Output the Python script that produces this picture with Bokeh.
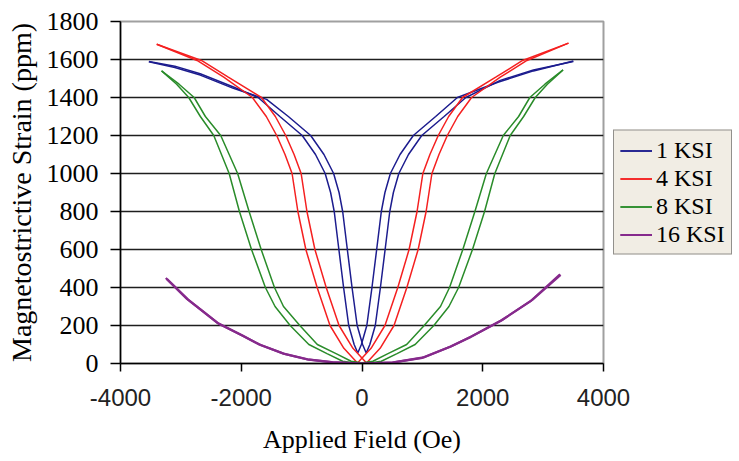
from bokeh.plotting import figure
from bokeh.models import Range1d, FixedTicker, Legend, LegendItem
from bokeh.embed import file_html
from bokeh.resources import INLINE

# ---- data ----
x_ticks = [-4000, -2000, 0, 2000, 4000]
x_tick_labels = ["-4000", "-2000", "0", "2000", "4000"]
y_ticks = [0, 200, 400, 600, 800, 1000, 1200, 1400, 1600, 1800]
labels = ["1 KSI", "4 KSI", "8 KSI", "16 KSI"]

blue_a_x = [-3530, -3100, -2680, -2130, -1720, -1360, -990, -770, -610, -520, -460, -383, -305, -220, -130, -70, -10, 80, 165, 243, 320, 380, 470, 630, 850, 1220, 1580, 2250, 2840, 3500]
blue_a_y = [1590, 1565, 1525, 1455, 1400, 1300, 1200, 1100, 1000, 900, 800, 600, 400, 200, 100, 55, 100, 200, 400, 600, 800, 900, 1000, 1100, 1200, 1300, 1400, 1480, 1540, 1592]
blue_b_x = [-3530, -3100, -2680, -2130, -1580, -1220, -850, -630, -470, -380, -320, -243, -165, -80, 10, 70, 130, 220, 305, 383, 460, 520, 610, 770, 990, 1360, 1720, 2290, 2840, 3500]
blue_b_y = [1588, 1558, 1518, 1448, 1390, 1300, 1200, 1100, 1000, 900, 800, 600, 400, 200, 100, 55, 100, 200, 400, 600, 800, 900, 1000, 1100, 1200, 1300, 1400, 1490, 1545, 1590]

red_a_x = [-3400, -2732, -2290, -1815, -1585, -1413, -1275, -1158, -1110, -1062, -930, -743, -530, -300, -75, 150, 380, 593, 780, 912, 960, 1008, 1125, 1263, 1435, 1665, 2215, 2660, 3420]
red_a_y = [1680, 1595, 1507, 1400, 1300, 1200, 1100, 1000, 900, 800, 600, 400, 200, 80, 3, 80, 200, 400, 600, 800, 900, 1000, 1100, 1200, 1300, 1400, 1507, 1595, 1686]
red_b_x = [-3400, -2660, -2215, -1665, -1435, -1263, -1125, -1008, -960, -912, -780, -593, -380, -150, 75, 300, 530, 743, 930, 1062, 1110, 1158, 1275, 1413, 1585, 1815, 2290, 2732, 3420]
red_b_y = [1680, 1595, 1507, 1400, 1300, 1200, 1100, 1000, 900, 800, 600, 400, 200, 80, 3, 80, 200, 400, 600, 800, 900, 1000, 1100, 1200, 1300, 1400, 1507, 1595, 1686]

green_a_x = [-3320, -3070, -2870, -2677, -2455, -2200, -2030, -1830, -1600, -1440, -1190, -880, -580, -320, -70, 180, 430, 740, 1030, 1300, 1450, 1670, 1870, 2060, 2340, 2594, 2780, 3030, 3330]
green_a_y = [1540, 1470, 1400, 1300, 1200, 1000, 800, 600, 400, 300, 200, 100, 52, 12, 0, 12, 52, 100, 200, 300, 400, 600, 800, 1000, 1200, 1300, 1400, 1470, 1545]
green_b_x = [-3320, -3030, -2780, -2594, -2340, -2060, -1870, -1670, -1450, -1300, -1030, -740, -430, -180, 70, 320, 580, 880, 1190, 1440, 1600, 1830, 2030, 2200, 2455, 2677, 2870, 3070, 3330]
green_b_y = [1540, 1470, 1400, 1300, 1200, 1000, 800, 600, 400, 300, 200, 100, 52, 12, 0, 12, 52, 100, 200, 300, 400, 600, 800, 1000, 1200, 1300, 1400, 1470, 1545]

purple_a_x = [-3250, -2900, -2400, -2000, -1700, -1300, -900, -500, 0, 500, 1000, 1460, 1800, 2300, 2800, 3280]
purple_a_y = [450, 340, 215, 150, 100, 52, 22, 7, 0, 5, 30, 88, 140, 225, 330, 470]
purple_b_x = [-3230, -2880, -2380, -1980, -1680, -1280, -880, -480, 20, 520, 1020, 1480, 1820, 2320, 2820, 3290]
purple_b_y = [444, 336, 211, 147, 97, 50, 20, 6, 0, 6, 32, 91, 143, 229, 335, 466]

colors = ["#1c1c8e", "#f52020", "#2a8c2a", "#862a8c"]

p = figure(frame_width=483, frame_height=342, output_backend="svg", toolbar_location=None,
           x_range=Range1d(-4000, 4000), y_range=Range1d(0, 1800))
p.min_border = 0
p.min_border_left = 120
p.min_border_right = 128
p.min_border_top = 21
p.min_border_bottom = 96
p.background_fill_color = "white"
p.border_fill_color = "white"
p.outline_line_color = "#a0a0a0"
p.outline_line_width = 2

p.xgrid.visible = False
p.ygrid.ticker = FixedTicker(ticks=y_ticks[1:-1])
p.ygrid.grid_line_color = "#1e1e1e"
p.ygrid.grid_line_width = 1.5

serif = "Liberation Serif"
sans = "Liberation Sans"

p.xaxis.ticker = FixedTicker(ticks=x_ticks)
p.xaxis.major_label_overrides = {t: s for t, s in zip(x_ticks, x_tick_labels)}
p.yaxis.ticker = FixedTicker(ticks=y_ticks)
for ax in (p.xaxis, p.yaxis):
    ax.axis_line_color = "black"
    ax.axis_line_width = 1.5
    ax.major_tick_line_color = "black"
    ax.major_tick_line_width = 1.5
    ax.major_tick_in = 0
    ax.minor_tick_line_color = None
    ax.axis_label_text_font = serif
    ax.axis_label_text_font_style = "normal"
    ax.axis_label_text_color = "black"

p.xaxis.major_tick_out = 8
p.xaxis.major_label_text_font = sans
p.xaxis.major_label_text_font_size = "24px"
p.xaxis.major_label_text_color = "#222222"
p.xaxis.major_label_standoff = 17
p.xaxis.axis_label = "Applied Field (Oe)"
p.xaxis.axis_label_text_font_size = "26px"
p.xaxis.axis_label_standoff = 16

p.yaxis.major_tick_out = 10
p.yaxis.major_label_text_font = serif
p.yaxis.major_label_text_font_size = "26px"
p.yaxis.major_label_text_color = "black"
p.yaxis.major_label_standoff = 12
p.yaxis.axis_label = "Magnetostrictive Strain (ppm)"
p.yaxis.axis_label_text_font_size = "28px"
p.yaxis.axis_label_standoff = 7

series = [
    (blue_a_x, blue_a_y, blue_b_x, blue_b_y),
    (red_a_x, red_a_y, red_b_x, red_b_y),
    (green_a_x, green_a_y, green_b_x, green_b_y),
    (purple_a_x, purple_a_y, purple_b_x, purple_b_y),
]
items = []
for (ax_, ay_, bx_, by_), lab, col in zip(series, labels, colors):
    w = 2.2 if lab == "16 KSI" else 1.5
    r1 = p.line(ax_, ay_, line_color=col, line_width=w)
    r2 = p.line(bx_, by_, line_color=col, line_width=w)
    items.append(LegendItem(label=lab, renderers=[r1, r2]))

legend = Legend(items=items, location="center_left")
legend.margin = 10
legend.padding = 6
legend.spacing = 1
legend.glyph_width = 32
legend.glyph_height = 22
legend.label_standoff = 4
legend.label_height = 24
legend.label_text_font = serif
legend.label_text_font_size = "24px"
legend.label_text_color = "black"
legend.border_line_color = "#333333"
legend.border_line_width = 1
legend.background_fill_color = "#f1ede4"
legend.background_fill_alpha = 1
p.add_layout(legend, "right")

open("out.html", "w").write(file_html(p, INLINE))
